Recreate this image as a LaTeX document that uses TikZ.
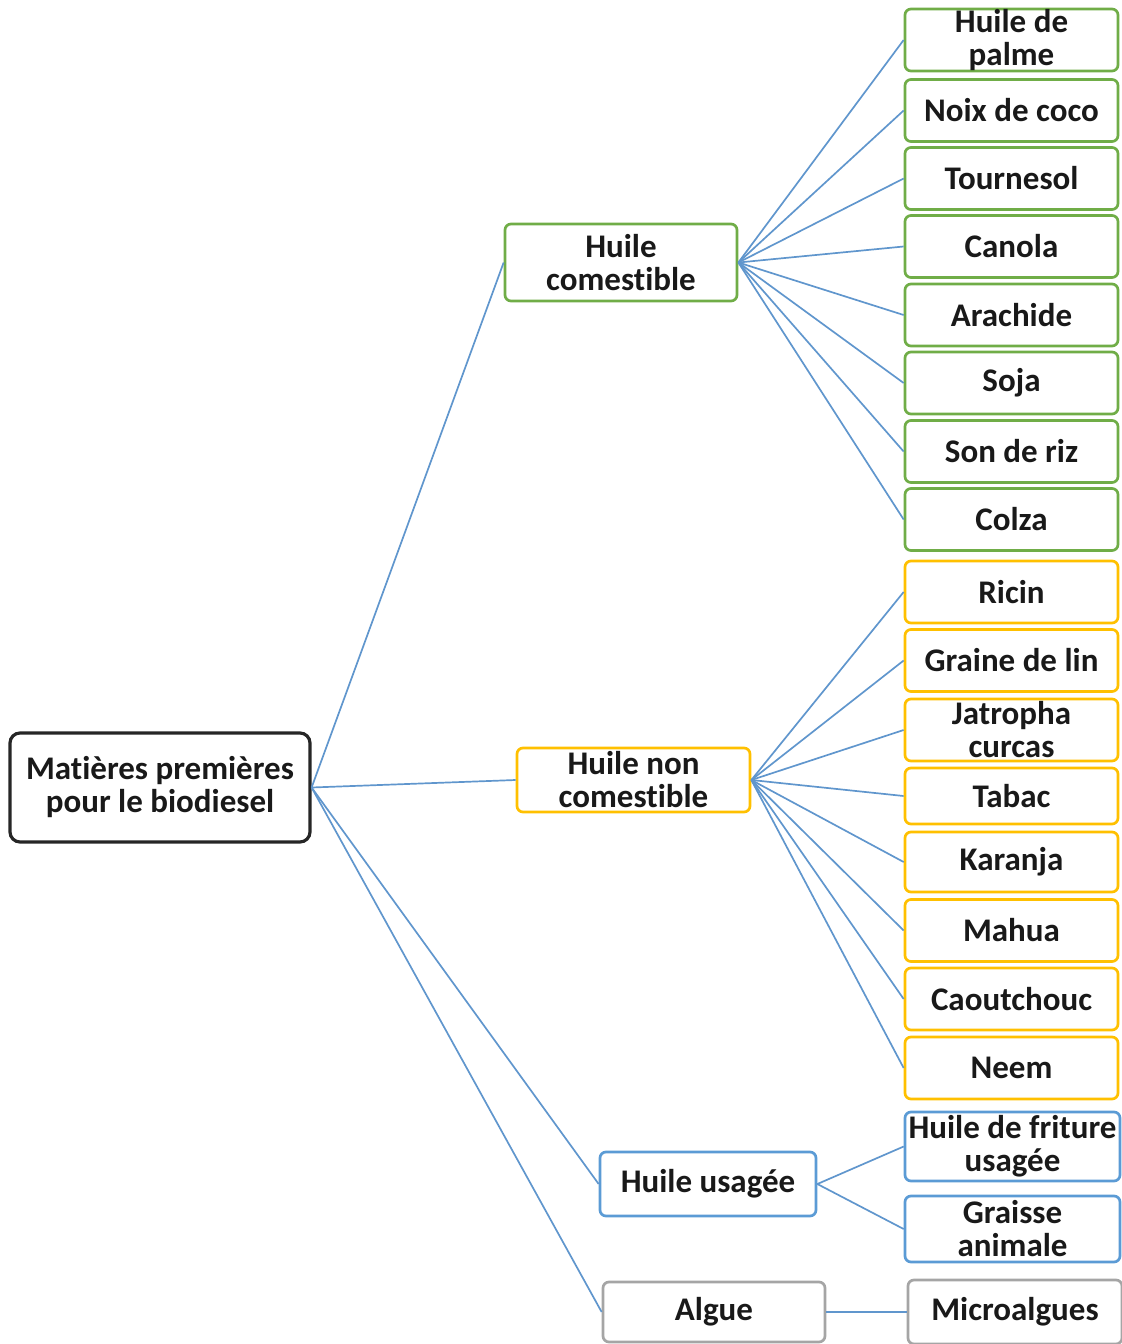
\documentclass[tikz,border=0pt]{standalone}
\usepackage{fontspec}
\setmainfont{Carlito}[Ligatures=NoCommon]
\definecolor{cgreen}{RGB}{112,173,71}
\definecolor{cgold}{RGB}{255,192,0}
\definecolor{cblue}{RGB}{91,155,213}
\definecolor{cgrey}{RGB}{165,165,165}
\definecolor{cline}{RGB}{96,150,205}
\definecolor{ctext}{RGB}{25,25,25}
\begin{document}
\begin{tikzpicture}[x=0.5pt,y=-0.5pt,
  base/.style={draw, rounded corners=3pt, line width=1.35pt, fill=white, align=center,
    inner sep=0pt, text=ctext, font=\bfseries\fontsize{16.5}{16.5}\selectfont},
  rootbox/.style={base, draw=black!85, line width=1.6pt, rounded corners=5pt,
    minimum width=150pt, minimum height=54.5pt},
  gleaf/.style={base, draw=cgreen, minimum width=106.5pt, minimum height=31pt},
  yleaf/.style={base, draw=cgold, minimum width=106.5pt, minimum height=31pt},
  bleaf/.style={base, draw=cblue, minimum width=107.5pt, minimum height=33pt},
  kleaf/.style={base, draw=cgrey, minimum width=107pt, minimum height=32pt},
  conn/.style={draw=cline, line width=0.85pt}]
\useasboundingbox (0,0) rectangle (1122,1344);

% root
\node[rootbox] (root) at (160,787.5) {Matières premières\\pour le biodiesel};

% groups
\node[base, draw=cgreen, minimum width=116pt, minimum height=38.5pt] (hc) at (621,262.5) {Huile\\comestible};
\node[base, draw=cgold, minimum width=116.5pt, minimum height=32pt] (hn) at (633.5,780) {Huile non\\comestible};
\node[base, draw=cblue, minimum width=108pt, minimum height=32pt] (hu) at (708,1184) {Huile usagée};
\node[base, draw=cgrey, minimum width=111pt, minimum height=30pt] (al) at (714,1312) {Algue};

% green leaves
\node[gleaf] (g1) at (1011.5,40) {Huile de\\palme};
\node[gleaf] (g2) at (1011.5,110.5) {Noix de coco};
\node[gleaf] (g3) at (1011.5,178.5) {Tournesol};
\node[gleaf] (g4) at (1011.5,246.5) {Canola};
\node[gleaf] (g5) at (1011.5,315) {Arachide};
\node[gleaf] (g6) at (1011.5,383) {Soja};
\node[gleaf] (g7) at (1011.5,451.5) {Son de riz};
\node[gleaf] (g8) at (1011.5,519.5) {Colza};

% yellow leaves
\node[yleaf] (y1) at (1011.5,592) {Ricin};
\node[yleaf] (y2) at (1011.5,660.5) {Graine de lin};
\node[yleaf] (y3) at (1011.5,730) {Jatropha\\curcas};
\node[yleaf, minimum height=28pt] (y4) at (1011.5,796) {Tabac};
\node[yleaf, minimum height=30pt] (y5) at (1011.5,862) {Karanja};
\node[yleaf] (y6) at (1011.5,930.5) {Mahua};
\node[yleaf] (y7) at (1011.5,999) {Caoutchouc};
\node[yleaf] (y8) at (1011.5,1068) {Neem};

% blue leaves
\node[bleaf, minimum height=34.5pt] (b1) at (1012.5,1146.5) {Huile de friture\\usagée};
\node[bleaf] (b2) at (1012.5,1229) {Graisse\\animale};

% grey leaf
\node[kleaf] (k1) at (1015,1312) {Microalgues};

% connectors root -> groups
\draw[conn] (root.east) -- (hc.west);
\draw[conn] (root.east) -- (hn.west);
\draw[conn] (root.east) -- (hu.west);
\draw[conn] (root.east) -- (al.west);

% groups -> leaves
\foreach \i in {1,...,8} {\draw[conn] (hc.east) -- (g\i.west);}
\foreach \i in {1,...,8} {\draw[conn] (hn.east) -- (y\i.west);}
\draw[conn] (hu.east) -- (b1.west);
\draw[conn] (hu.east) -- (b2.west);
\draw[conn] (al.east) -- (k1.west);
\end{tikzpicture}
\end{document}
